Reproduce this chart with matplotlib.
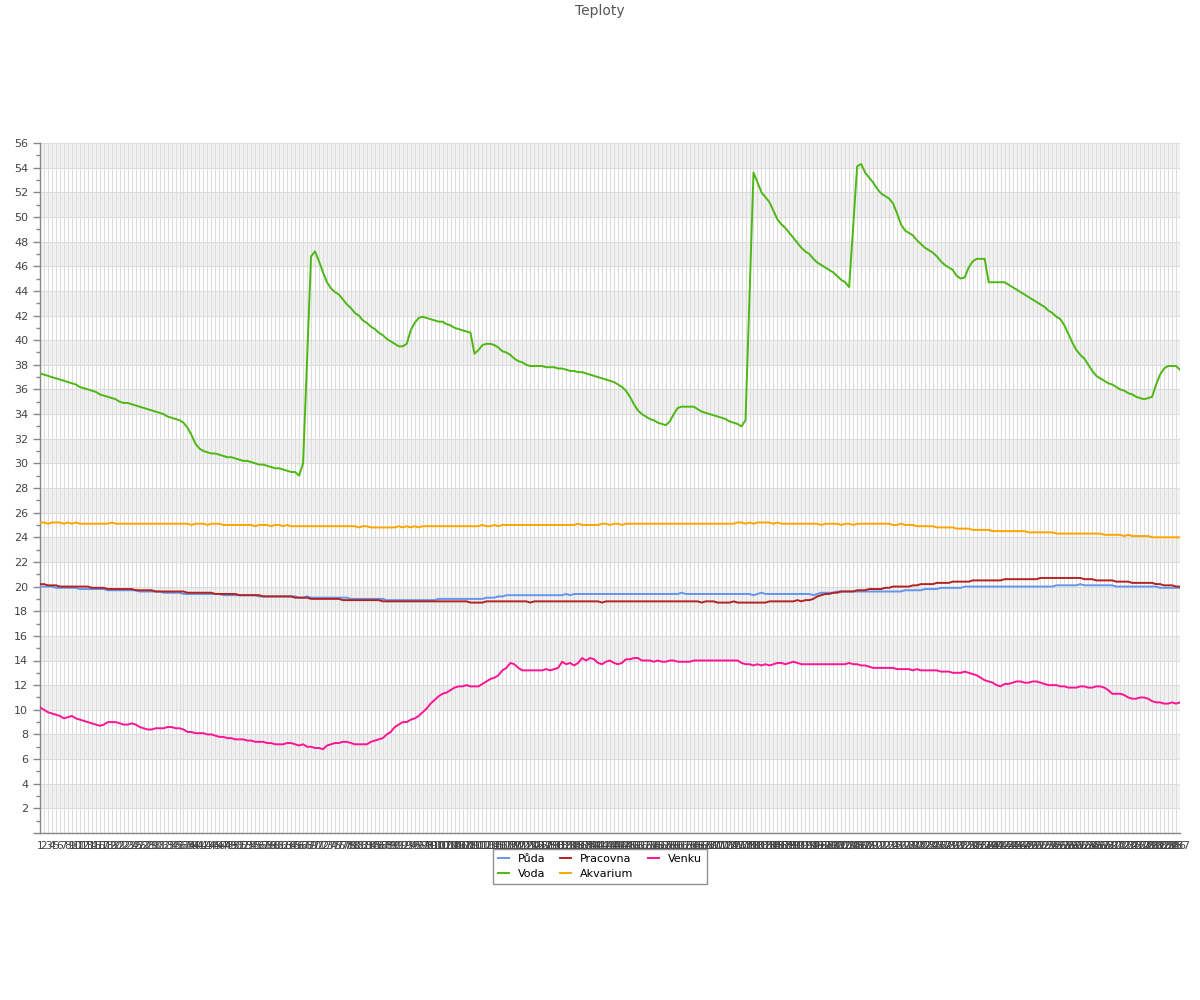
import matplotlib
matplotlib.use("Agg")
import matplotlib.pyplot as plt
from matplotlib.ticker import MultipleLocator

title = "Teploty"
series_names = ["Půda", "Voda", "Pracovna", "Akvarium", "Venku"]
categories = [str(i) for i in range(1, 288)]

puda = [
    20.0,20.0,20.0,20.0,19.9,19.9,19.9,19.9,19.9,19.9,
    19.8,19.8,19.8,19.8,19.8,19.8,19.8,19.7,19.7,19.7,
    19.7,19.7,19.7,19.7,19.7,19.6,19.6,19.6,19.6,19.6,
    19.6,19.5,19.5,19.5,19.5,19.5,19.4,19.4,19.4,19.4,
    19.4,19.4,19.4,19.4,19.4,19.4,19.3,19.3,19.3,19.3,
    19.3,19.3,19.3,19.3,19.3,19.2,19.2,19.2,19.2,19.2,
    19.2,19.2,19.2,19.2,19.2,19.1,19.1,19.2,19.1,19.1,
    19.1,19.1,19.1,19.1,19.1,19.1,19.1,19.1,19.0,19.0,
    19.0,19.0,19.0,19.0,19.0,19.0,19.0,18.9,18.9,18.9,
    18.9,18.9,18.9,18.9,18.9,18.9,18.9,18.9,18.9,18.9,
    19.0,19.0,19.0,19.0,19.0,19.0,19.0,19.0,19.0,19.0,
    19.0,19.0,19.1,19.1,19.1,19.2,19.2,19.3,19.3,19.3,
    19.3,19.3,19.3,19.3,19.3,19.3,19.3,19.3,19.3,19.3,
    19.3,19.3,19.4,19.3,19.4,19.4,19.4,19.4,19.4,19.4,
    19.4,19.4,19.4,19.4,19.4,19.4,19.4,19.4,19.4,19.4,
    19.4,19.4,19.4,19.4,19.4,19.4,19.4,19.4,19.4,19.4,
    19.4,19.5,19.4,19.4,19.4,19.4,19.4,19.4,19.4,19.4,
    19.4,19.4,19.4,19.4,19.4,19.4,19.4,19.4,19.4,19.3,
    19.4,19.5,19.4,19.4,19.4,19.4,19.4,19.4,19.4,19.4,
    19.4,19.4,19.4,19.4,19.3,19.4,19.5,19.5,19.5,19.5,
    19.6,19.6,19.6,19.6,19.6,19.6,19.6,19.6,19.6,19.6,
    19.6,19.6,19.6,19.6,19.6,19.6,19.6,19.7,19.7,19.7,
    19.7,19.7,19.8,19.8,19.8,19.8,19.9,19.9,19.9,19.9,
    19.9,19.9,20.0,20.0,20.0,20.0,20.0,20.0,20.0,20.0,
    20.0,20.0,20.0,20.0,20.0,20.0,20.0,20.0,20.0,20.0,
    20.0,20.0,20.0,20.0,20.0,20.1,20.1,20.1,20.1,20.1,
    20.1,20.2,20.1,20.1,20.1,20.1,20.1,20.1,20.1,20.1,
    20.0,20.0,20.0,20.0,20.0,20.0,20.0,20.0,20.0,20.0,
    20.0,19.9,19.9,19.9,19.9,19.9,19.9,
]

voda = [
    37.3,37.2,37.1,37.0,36.9,36.8,36.7,36.6,36.5,36.4,
    36.2,36.1,36.0,35.9,35.8,35.6,35.5,35.4,35.3,35.2,
    35.0,34.9,34.9,34.8,34.7,34.6,34.5,34.4,34.3,34.2,
    34.1,34.0,33.8,33.7,33.6,33.5,33.3,32.9,32.3,31.6,
    31.2,31.0,30.9,30.8,30.8,30.7,30.6,30.5,30.5,30.4,
    30.3,30.2,30.2,30.1,30.0,29.9,29.9,29.8,29.7,29.6,
    29.6,29.5,29.4,29.3,29.3,29.0,30.0,38.4,46.8,47.2,
    46.4,45.5,44.7,44.2,43.9,43.7,43.3,42.9,42.6,42.2,
    42.0,41.6,41.4,41.1,40.9,40.6,40.4,40.1,39.9,39.7,
    39.5,39.5,39.7,40.8,41.4,41.8,41.9,41.8,41.7,41.6,
    41.5,41.5,41.3,41.2,41.0,40.9,40.8,40.7,40.6,38.9,
    39.2,39.6,39.7,39.7,39.6,39.4,39.1,39.0,38.8,38.5,
    38.3,38.2,38.0,37.9,37.9,37.9,37.9,37.8,37.8,37.8,
    37.7,37.7,37.6,37.5,37.5,37.4,37.4,37.3,37.2,37.1,
    37.0,36.9,36.8,36.7,36.6,36.4,36.2,35.9,35.4,34.8,
    34.3,34.0,33.8,33.6,33.5,33.3,33.2,33.1,33.4,34.0,
    34.5,34.6,34.6,34.6,34.6,34.4,34.2,34.1,34.0,33.9,
    33.8,33.7,33.6,33.4,33.3,33.2,33.0,33.5,43.5,53.6,
    52.8,52.0,51.6,51.2,50.5,49.8,49.4,49.1,48.7,48.3,
    47.9,47.5,47.2,47.0,46.6,46.3,46.1,45.9,45.7,45.5,
    45.2,44.9,44.7,44.3,49.2,54.1,54.3,53.6,53.2,52.8,
    52.3,51.9,51.7,51.5,51.1,50.3,49.4,48.9,48.7,48.5,
    48.1,47.8,47.5,47.3,47.1,46.8,46.4,46.1,45.9,45.7,
    45.2,45.0,45.1,45.9,46.4,46.6,46.6,46.6,44.7,44.7,
    44.7,44.7,44.7,44.5,44.3,44.1,43.9,43.7,43.5,43.3,
    43.1,42.9,42.7,42.4,42.2,41.9,41.7,41.2,40.5,39.8,
    39.2,38.8,38.5,38.0,37.5,37.1,36.9,36.7,36.5,36.4,
    36.2,36.0,35.9,35.7,35.6,35.4,35.3,35.2,35.3,35.4,
    36.4,37.2,37.7,37.9,37.9,37.9,37.6,
]

pracovna = [
    20.2,20.2,20.1,20.1,20.1,20.0,20.0,20.0,20.0,20.0,
    20.0,20.0,20.0,19.9,19.9,19.9,19.9,19.8,19.8,19.8,
    19.8,19.8,19.8,19.8,19.7,19.7,19.7,19.7,19.7,19.6,
    19.6,19.6,19.6,19.6,19.6,19.6,19.6,19.5,19.5,19.5,
    19.5,19.5,19.5,19.5,19.4,19.4,19.4,19.4,19.4,19.4,
    19.3,19.3,19.3,19.3,19.3,19.3,19.2,19.2,19.2,19.2,
    19.2,19.2,19.2,19.2,19.1,19.1,19.1,19.1,19.0,19.0,
    19.0,19.0,19.0,19.0,19.0,19.0,18.9,18.9,18.9,18.9,
    18.9,18.9,18.9,18.9,18.9,18.9,18.8,18.8,18.8,18.8,
    18.8,18.8,18.8,18.8,18.8,18.8,18.8,18.8,18.8,18.8,
    18.8,18.8,18.8,18.8,18.8,18.8,18.8,18.8,18.7,18.7,
    18.7,18.7,18.8,18.8,18.8,18.8,18.8,18.8,18.8,18.8,
    18.8,18.8,18.8,18.7,18.8,18.8,18.8,18.8,18.8,18.8,
    18.8,18.8,18.8,18.8,18.8,18.8,18.8,18.8,18.8,18.8,
    18.8,18.7,18.8,18.8,18.8,18.8,18.8,18.8,18.8,18.8,
    18.8,18.8,18.8,18.8,18.8,18.8,18.8,18.8,18.8,18.8,
    18.8,18.8,18.8,18.8,18.8,18.8,18.7,18.8,18.8,18.8,
    18.7,18.7,18.7,18.7,18.8,18.7,18.7,18.7,18.7,18.7,
    18.7,18.7,18.7,18.8,18.8,18.8,18.8,18.8,18.8,18.8,
    18.9,18.8,18.9,18.9,19.0,19.2,19.3,19.4,19.4,19.5,
    19.5,19.6,19.6,19.6,19.6,19.7,19.7,19.7,19.8,19.8,
    19.8,19.8,19.9,19.9,20.0,20.0,20.0,20.0,20.0,20.1,
    20.1,20.2,20.2,20.2,20.2,20.3,20.3,20.3,20.3,20.4,
    20.4,20.4,20.4,20.4,20.5,20.5,20.5,20.5,20.5,20.5,
    20.5,20.5,20.6,20.6,20.6,20.6,20.6,20.6,20.6,20.6,
    20.6,20.7,20.7,20.7,20.7,20.7,20.7,20.7,20.7,20.7,
    20.7,20.7,20.6,20.6,20.6,20.5,20.5,20.5,20.5,20.5,
    20.4,20.4,20.4,20.4,20.3,20.3,20.3,20.3,20.3,20.3,
    20.2,20.2,20.1,20.1,20.1,20.0,20.0,
]

akvarium = [
    25.2,25.2,25.1,25.2,25.2,25.2,25.1,25.2,25.1,25.2,
    25.1,25.1,25.1,25.1,25.1,25.1,25.1,25.1,25.2,25.1,
    25.1,25.1,25.1,25.1,25.1,25.1,25.1,25.1,25.1,25.1,
    25.1,25.1,25.1,25.1,25.1,25.1,25.1,25.1,25.0,25.1,
    25.1,25.1,25.0,25.1,25.1,25.1,25.0,25.0,25.0,25.0,
    25.0,25.0,25.0,25.0,24.9,25.0,25.0,25.0,24.9,25.0,
    25.0,24.9,25.0,24.9,24.9,24.9,24.9,24.9,24.9,24.9,
    24.9,24.9,24.9,24.9,24.9,24.9,24.9,24.9,24.9,24.9,
    24.8,24.9,24.9,24.8,24.8,24.8,24.8,24.8,24.8,24.8,
    24.9,24.8,24.9,24.8,24.9,24.8,24.9,24.9,24.9,24.9,
    24.9,24.9,24.9,24.9,24.9,24.9,24.9,24.9,24.9,24.9,
    24.9,25.0,24.9,24.9,25.0,24.9,25.0,25.0,25.0,25.0,
    25.0,25.0,25.0,25.0,25.0,25.0,25.0,25.0,25.0,25.0,
    25.0,25.0,25.0,25.0,25.0,25.1,25.0,25.0,25.0,25.0,
    25.0,25.1,25.1,25.0,25.1,25.1,25.0,25.1,25.1,25.1,
    25.1,25.1,25.1,25.1,25.1,25.1,25.1,25.1,25.1,25.1,
    25.1,25.1,25.1,25.1,25.1,25.1,25.1,25.1,25.1,25.1,
    25.1,25.1,25.1,25.1,25.1,25.2,25.2,25.1,25.2,25.1,
    25.2,25.2,25.2,25.2,25.1,25.2,25.1,25.1,25.1,25.1,
    25.1,25.1,25.1,25.1,25.1,25.1,25.0,25.1,25.1,25.1,
    25.1,25.0,25.1,25.1,25.0,25.1,25.1,25.1,25.1,25.1,
    25.1,25.1,25.1,25.1,25.0,25.0,25.1,25.0,25.0,25.0,
    24.9,24.9,24.9,24.9,24.9,24.8,24.8,24.8,24.8,24.8,
    24.7,24.7,24.7,24.7,24.6,24.6,24.6,24.6,24.6,24.5,
    24.5,24.5,24.5,24.5,24.5,24.5,24.5,24.5,24.4,24.4,
    24.4,24.4,24.4,24.4,24.4,24.3,24.3,24.3,24.3,24.3,
    24.3,24.3,24.3,24.3,24.3,24.3,24.3,24.2,24.2,24.2,
    24.2,24.2,24.1,24.2,24.1,24.1,24.1,24.1,24.1,24.0,
    24.0,24.0,24.0,24.0,24.0,24.0,24.0,
]

venku = [
    10.2,10.0,9.8,9.7,9.6,9.5,9.3,9.4,9.5,9.3,
    9.2,9.1,9.0,8.9,8.8,8.7,8.8,9.0,9.0,9.0,
    8.9,8.8,8.8,8.9,8.8,8.6,8.5,8.4,8.4,8.5,
    8.5,8.5,8.6,8.6,8.5,8.5,8.4,8.2,8.2,8.1,
    8.1,8.1,8.0,8.0,7.9,7.8,7.8,7.7,7.7,7.6,
    7.6,7.6,7.5,7.5,7.4,7.4,7.4,7.3,7.3,7.2,
    7.2,7.2,7.3,7.3,7.2,7.1,7.2,7.0,7.0,6.9,
    6.9,6.8,7.1,7.2,7.3,7.3,7.4,7.4,7.3,7.2,
    7.2,7.2,7.2,7.4,7.5,7.6,7.7,8.0,8.2,8.6,
    8.8,9.0,9.0,9.2,9.3,9.5,9.8,10.1,10.5,10.8,
    11.1,11.3,11.4,11.6,11.8,11.9,11.9,12.0,11.9,11.9,
    11.9,12.1,12.3,12.5,12.6,12.8,13.2,13.4,13.8,13.7,
    13.4,13.2,13.2,13.2,13.2,13.2,13.2,13.3,13.2,13.3,
    13.4,13.9,13.7,13.8,13.6,13.8,14.2,14.0,14.2,14.1,
    13.8,13.7,13.9,14.0,13.8,13.7,13.8,14.1,14.1,14.2,
    14.2,14.0,14.0,14.0,13.9,14.0,13.9,13.9,14.0,14.0,
    13.9,13.9,13.9,13.9,14.0,14.0,14.0,14.0,14.0,14.0,
    14.0,14.0,14.0,14.0,14.0,14.0,13.8,13.7,13.7,13.6,
    13.7,13.6,13.7,13.6,13.7,13.8,13.8,13.7,13.8,13.9,
    13.8,13.7,13.7,13.7,13.7,13.7,13.7,13.7,13.7,13.7,
    13.7,13.7,13.7,13.8,13.7,13.7,13.6,13.6,13.5,13.4,
    13.4,13.4,13.4,13.4,13.4,13.3,13.3,13.3,13.3,13.2,
    13.3,13.2,13.2,13.2,13.2,13.2,13.1,13.1,13.1,13.0,
    13.0,13.0,13.1,13.0,12.9,12.8,12.6,12.4,12.3,12.2,
    12.0,11.9,12.1,12.1,12.2,12.3,12.3,12.2,12.2,12.3,
    12.3,12.2,12.1,12.0,12.0,12.0,11.9,11.9,11.8,11.8,
    11.8,11.9,11.9,11.8,11.8,11.9,11.9,11.8,11.6,11.3,
    11.3,11.3,11.2,11.0,10.9,10.9,11.0,11.0,10.9,10.7,
    10.6,10.6,10.5,10.5,10.6,10.5,10.6,
]

colors = {
    "Půda": "#6495ED",
    "Voda": "#4DB814",
    "Pracovna": "#B22222",
    "Akvarium": "#FFA500",
    "Venku": "#FF1493",
}

plt.rcParams['font.family'] = ['DejaVu Sans']

fig = plt.figure(figsize=(12, 10), dpi=100)
ax = fig.add_axes([40/1200, 167/1000, 1140/1200, 690/1000])

x = list(range(len(categories)))
ax.set_xlim(0, len(categories) - 1)
ax.set_ylim(0, 56)

# alternating bands
for lo in range(2, 56, 4):
    ax.axhspan(lo, lo + 2, color="#F2F2F2", zorder=0, lw=0)

ax.set_xticks(x)
ax.set_xticklabels(categories, fontsize=7.5, color="#444444")
ax.tick_params(axis="x", length=0, pad=6)

ax.yaxis.set_major_locator(MultipleLocator(2))
ax.yaxis.set_minor_locator(MultipleLocator(1))
yt = list(range(0, 57, 2))
ax.set_yticks(yt)
ax.set_yticklabels(["" if v == 0 else str(v) for v in yt], fontsize=8, color="#444444")
ax.tick_params(axis="y", which="major", length=5, color="#888888", width=1)
ax.tick_params(axis="y", which="minor", length=3, color="#888888", width=1)

ax.grid(True, axis="both", which="major", color="#DDDDDD", linewidth=0.8, zorder=1)
ax.set_axisbelow(True)

for s in ["top", "right"]:
    ax.spines[s].set_visible(False)
for s in ["left", "bottom"]:
    ax.spines[s].set_color("#888888")
    ax.spines[s].set_linewidth(1)

data = {"Půda": puda, "Voda": voda, "Pracovna": pracovna, "Akvarium": akvarium, "Venku": venku}
handles = {}
for name in series_names:
    (h,) = ax.plot(x, data[name], color=colors[name], lw=1.4, zorder=3, label=name)
    handles[name] = h

fig.text(0.5, 1 - 11/1000, title, ha="center", va="center", fontsize=10, color="#555555")

leg = fig.legend([handles[n] for n in series_names], series_names,
                 loc="upper center", bbox_to_anchor=(0.5, 1 - 843/1000), ncol=3,
                 fontsize=8, frameon=True, fancybox=False, handlelength=1.0,
                 handletextpad=0.8, columnspacing=1.3, borderpad=0.45, labelspacing=0.45)
leg.get_frame().set_edgecolor("#777777")
leg.get_frame().set_linewidth(1)

fig.savefig("out.png", dpi=100)
